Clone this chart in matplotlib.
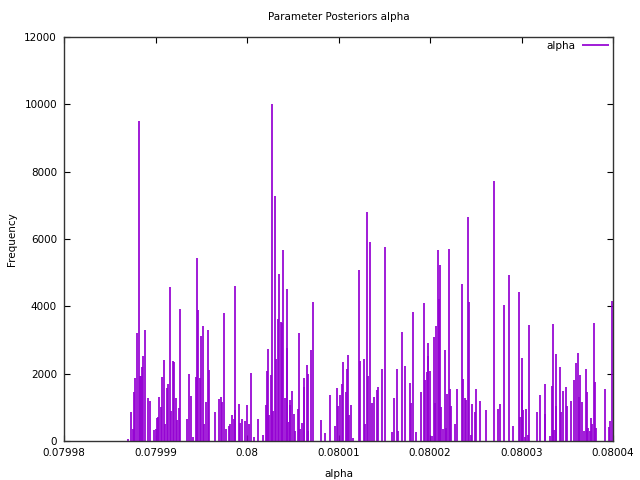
import matplotlib
matplotlib.use("Agg")
import matplotlib.pyplot as plt

# impulse positions (alpha) and their frequencies
alpha_vals = [
    0.07998703, 0.07998736, 0.07998751, 0.07998768, 0.07998779, 0.07998801,
    0.07998816, 0.07998831, 0.07998845, 0.07998856, 0.07998867, 0.07998882,
    0.07998915, 0.07998943, 0.07998987, 0.07999002, 0.07999020, 0.07999031,
    0.07999042, 0.07999057, 0.07999071, 0.07999090, 0.07999107, 0.07999122,
    0.07999137, 0.07999155, 0.07999173, 0.07999195, 0.07999205, 0.07999224,
    0.07999238, 0.07999254, 0.07999271, 0.07999348, 0.07999369, 0.07999391,
    0.07999410, 0.07999446, 0.07999454, 0.07999465, 0.07999486, 0.07999497,
    0.07999516, 0.07999527, 0.07999549, 0.07999571, 0.07999585, 0.07999650,
    0.07999697, 0.07999713, 0.07999727, 0.07999745, 0.07999767, 0.07999800,
    0.07999818, 0.07999839, 0.07999855, 0.07999866, 0.07999872, 0.07999916,
    0.07999927, 0.07999945, 0.07999978, 0.08000000, 0.08000025, 0.08000040,
    0.08000073, 0.08000117, 0.08000175, 0.08000204, 0.08000215, 0.08000230,
    0.08000240, 0.08000259, 0.08000270, 0.08000284, 0.08000301, 0.08000314,
    0.08000333, 0.08000353, 0.08000366, 0.08000383, 0.08000397, 0.08000415,
    0.08000432, 0.08000437, 0.08000459, 0.08000467, 0.08000473, 0.08000492,
    0.08000517, 0.08000528, 0.08000554, 0.08000565, 0.08000579, 0.08000604,
    0.08000618, 0.08000626, 0.08000650, 0.08000661, 0.08000669, 0.08000696,
    0.08000721, 0.08000806, 0.08000849, 0.08000910, 0.08000965, 0.08000980,
    0.08000991, 0.08001020, 0.08001035, 0.08001044, 0.08001082, 0.08001093,
    0.08001104, 0.08001115, 0.08001140, 0.08001155, 0.08001224, 0.08001238,
    0.08001275, 0.08001293, 0.08001308, 0.08001317, 0.08001344, 0.08001366,
    0.08001388, 0.08001418, 0.08001428, 0.08001479, 0.08001512, 0.08001581,
    0.08001610, 0.08001634, 0.08001654, 0.08001691, 0.08001730, 0.08001785,
    0.08001796, 0.08001811, 0.08001844, 0.08001898, 0.08001931, 0.08001945,
    0.08001964, 0.08001975, 0.08001981, 0.08002003, 0.08002025, 0.08002040,
    0.08002055, 0.08002069, 0.08002084, 0.08002095, 0.08002109, 0.08002120,
    0.08002142, 0.08002161, 0.08002175, 0.08002189, 0.08002204, 0.08002219,
    0.08002226, 0.08002270, 0.08002295, 0.08002347, 0.08002361, 0.08002379,
    0.08002397, 0.08002415, 0.08002426, 0.08002445, 0.08002456, 0.08002489,
    0.08002499, 0.08002543, 0.08002615, 0.08002702, 0.08002747, 0.08002762,
    0.08002812, 0.08002863, 0.08002904, 0.08002969, 0.08002987, 0.08003002,
    0.08003009, 0.08003020, 0.08003035, 0.08003049, 0.08003068, 0.08003082,
    0.08003166, 0.08003199, 0.08003254, 0.08003260, 0.08003311, 0.08003330,
    0.08003341, 0.08003355, 0.08003374, 0.08003380, 0.08003421, 0.08003435,
    0.08003454, 0.08003486, 0.08003494, 0.08003541, 0.08003577, 0.08003592,
    0.08003618, 0.08003632, 0.08003643, 0.08003661, 0.08003683, 0.08003705,
    0.08003719, 0.08003730, 0.08003745, 0.08003756, 0.08003774, 0.08003789,
    0.08003800, 0.08003814, 0.08003913, 0.08003953, 0.08003967, 0.08003992,
]
freq = [
    60, 870, 360, 1460, 1880, 3220,
    9500, 1940, 1940, 2200, 2530, 3300,
    1280, 1190, 330, 350, 700, 730,
    1310, 1000, 1900, 2400, 520, 1570,
    1710, 4590, 890, 2380, 2350, 1270,
    620, 980, 3910, 670, 1980, 1340,
    130, 1910, 5430, 3890, 1880, 3120,
    3410, 500, 1150, 3300, 2110, 870,
    1240, 1300, 1160, 3810, 350, 460,
    500, 780, 660, 910, 4620, 1110,
    530, 660, 600, 1080, 500, 2010,
    130, 660, 180, 1060, 2080, 2750,
    770, 1960, 10000, 900, 7270, 2450,
    3630, 4950, 3540, 3510, 5660, 1290,
    2770, 4530, 560, 1230, 1070, 1500,
    810, 300, 960, 3200, 350, 550,
    1870, 1610, 2250, 1990, 300, 2700,
    4140, 640, 240, 1380, 440, 1580,
    1050, 1370, 1700, 2340, 1460, 2140,
    2550, 790, 1070, 80, 5080, 2390,
    2440, 500, 6800, 1940, 5920, 1120,
    1320, 1520, 1610, 2130, 5750, 260,
    1270, 2150, 290, 3250, 2230, 1730,
    1120, 3820, 280, 1450, 4090, 1800,
    2060, 2900, 2540, 2070, 150, 3090,
    1130, 3420, 5660, 4210, 5220, 1020,
    360, 2710, 390, 1410, 5690, 1560,
    1050, 520, 1560, 4670, 1850, 1290,
    1220, 6660, 4120, 180, 1090, 860,
    1550, 1190, 920, 7720, 950, 1090,
    4040, 4920, 460, 4440, 720, 1520,
    2480, 930, 130, 960, 180, 3460,
    850, 1370, 1710, 820, 140, 1630,
    3490, 320, 2600, 1030, 2190, 850,
    1500, 1610, 1030, 1200, 1820, 2310,
    2610, 1310, 1960, 1150, 300, 2130,
    1470, 400, 300, 680, 500, 3520,
    1760, 400, 1560, 430, 590, 4170,
]

x_ticks = [0.07998, 0.07999, 0.08, 0.08001, 0.08002, 0.08003, 0.08004]
y_ticks = [0, 2000, 4000, 6000, 8000, 10000, 12000]


def main():
    plt.rcParams['font.family'] = ['DejaVu Sans']
    fig = plt.figure(figsize=(6.4, 4.8), dpi=100)
    ax = fig.add_axes([0.1, 0.081, 0.858, 0.842])

    ax.vlines(alpha_vals, 0, freq, colors='#9400d3', linewidth=1.25, label='alpha')

    ax.set_xlim(x_ticks[0], x_ticks[-1])
    ax.set_ylim(y_ticks[0], y_ticks[-1])
    ax.set_xticks(x_ticks)
    ax.set_xticklabels(['%g' % t for t in x_ticks])
    ax.set_yticks(y_ticks)
    ax.tick_params(direction='in', length=4, width=0.8, top=True, right=True,
                   labelsize=7.5, pad=5)
    for s in ax.spines.values():
        s.set_linewidth(1.0)
        s.set_color('#333333')

    ax.set_title('Parameter Posteriors alpha', fontsize=7.5, pad=12)
    ax.set_xlabel('alpha', fontsize=7.5, labelpad=8)
    ax.set_ylabel('Frequency', fontsize=7.5, labelpad=5)
    ax.legend(loc='upper right', frameon=False, markerfirst=False, fontsize=7.5,
              handlelength=2.6, handletextpad=0.6, borderpad=0.3,
              borderaxespad=0.1)

    fig.savefig('out.png', dpi=100)


if __name__ == '__main__':
    main()
